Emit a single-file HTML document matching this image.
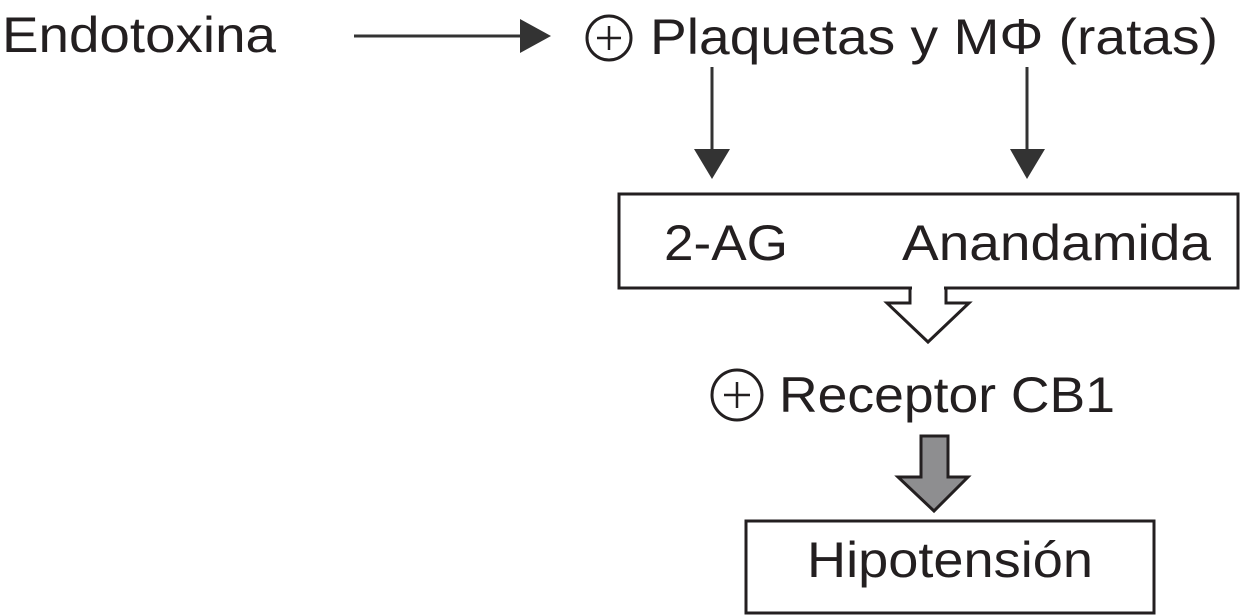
<!DOCTYPE html>
<html><head><meta charset="utf-8"><style>
html,body{margin:0;padding:0;background:#fff;}
svg{display:block;}
text{font-family:"Liberation Sans",Arial,sans-serif;fill:#231f20;}
</style></head><body>
<svg width="1240" height="616" viewBox="0 0 1240 616" xmlns="http://www.w3.org/2000/svg">
<text x="2" y="52" font-size="50" textLength="274" lengthAdjust="spacingAndGlyphs">Endotoxina</text>
<line x1="354" y1="36" x2="524" y2="36" stroke="#333" stroke-width="3"/>
<polygon points="520,19 551,36 520,53" fill="#333"/>
<circle cx="609" cy="38" r="22" fill="none" stroke="#231f20" stroke-width="3"/>
<line x1="597" y1="38" x2="621" y2="38" stroke="#231f20" stroke-width="2.5"/>
<line x1="609" y1="26" x2="609" y2="50" stroke="#231f20" stroke-width="2.5"/>
<text x="650" y="54" font-size="50" textLength="568" lengthAdjust="spacingAndGlyphs">Plaquetas y MΦ (ratas)</text>
<line x1="712" y1="67" x2="712" y2="152" stroke="#333" stroke-width="3"/>
<polygon points="694,149 730,149 712,179" fill="#333"/>
<line x1="1027" y1="67" x2="1027" y2="152" stroke="#333" stroke-width="3"/>
<polygon points="1010,149 1045,149 1027,179" fill="#333"/>
<rect x="619" y="194" width="619" height="94" fill="#fff" stroke="#231f20" stroke-width="3"/>
<text x="664" y="260" font-size="50" textLength="124" lengthAdjust="spacingAndGlyphs">2-AG</text>
<text x="902" y="260" font-size="50" textLength="309" lengthAdjust="spacingAndGlyphs">Anandamida</text>
<polygon points="910,288 946,288 946,303 969,303 928,342 887,303 910,303" fill="#fff" stroke="#231f20" stroke-width="3" stroke-linejoin="miter"/>
<line x1="912" y1="288" x2="944" y2="288" stroke="#fff" stroke-width="4"/>
<circle cx="737" cy="395" r="25" fill="none" stroke="#231f20" stroke-width="3"/>
<line x1="724" y1="395" x2="750" y2="395" stroke="#231f20" stroke-width="2.5"/>
<line x1="737" y1="382" x2="737" y2="408" stroke="#231f20" stroke-width="2.5"/>
<text x="779" y="412" font-size="50" textLength="336" lengthAdjust="spacingAndGlyphs">Receptor CB1</text>
<polygon points="921,436 948,436 948,477 968,477 934,511 898,477 921,477" fill="#8e8e90" stroke="#231f20" stroke-width="3"/>
<rect x="746" y="521" width="408" height="92" fill="#fff" stroke="#231f20" stroke-width="3"/>
<text x="807" y="577" font-size="50" textLength="286" lengthAdjust="spacingAndGlyphs">Hipotensión</text>
</svg>
</body></html>
